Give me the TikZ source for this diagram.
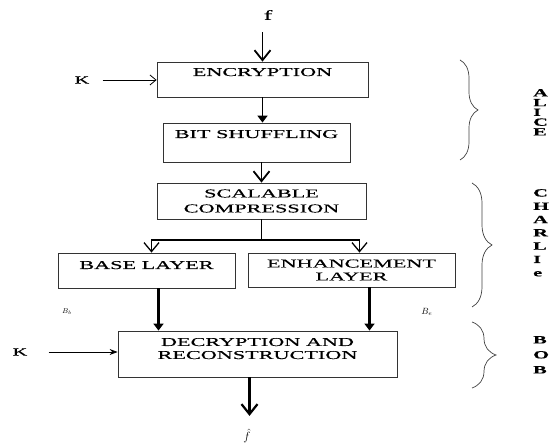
\documentclass[tikz,border=0pt]{standalone}
\usepackage{fontspec}
\setmainfont{Liberation Serif}
\newfontfamily\widefont[FakeStretch=1.85, FakeBold=0.4]{Liberation Serif}
\usepackage{tikz}
\usetikzlibrary{calc, arrows.meta, decorations.pathreplacing}

\tikzset{
	blk/.style = {draw = black!80, line width = 0.8pt, inner sep = 0pt, align = center, font = \widefont\fontsize{12}{14}\selectfont},
	lbl/.style = {inner sep = 1pt, font = \widefont\fontsize{11}{11}\selectfont},
	who/.style = {anchor = north west, align = left, inner sep = 0pt, font = \widefont\bfseries\fontsize{11}{#1}\selectfont},
	brc/.style = {draw = black!75, line width = 0.7pt, decorate, decoration = {brace, amplitude = #1}},
	opn/.style = {-{Straight Barb[length = 10pt, width = 16pt]}},
	fil/.style = {-{Triangle[length = 7pt, width = 10pt]}}
}

\begin{document}
\begin{tikzpicture}[x = 1pt, y = -1pt]
	\useasboundingbox (0,0) rectangle (550,443);

	\node [blk, minimum width = 211pt, minimum height = 35pt, text height = 8pt, text depth = 15pt] (enc) at (262.5,79.5) {ENCRYPTION};
	\node [blk, minimum width = 187pt, minimum height = 39pt, text height = 8pt, text depth = 17pt] (bit) at (256.5,142.5) {BIT SHUFFLING};
	\node [blk, minimum width = 209pt, minimum height = 36pt, font = \widefont\fontsize{12}{15}\selectfont] (scal) at (261.5,201) {SCALABLE\\COMPRESSION};
	\node [blk, minimum width = 177pt, minimum height = 35pt, text height = 8pt, text depth = 11pt] (base) at (146.5,270.5) {BASE LAYER};
	\node [blk, minimum width = 207pt, minimum height = 34pt, font = \widefont\fontsize{12}{13}\selectfont] (enh) at (351.5,270) {ENHANCEMENT\\LAYER};
	\node [blk, minimum width = 279pt, minimum height = 46pt, font = \widefont\fontsize{12}{13}\selectfont] (dec) at (257.5,354) {DECRYPTION AND\\RECONSTRUCTION\rule[-11pt]{0pt}{0pt}};

	\node [lbl, font = \widefont\fontsize{14}{14}\selectfont] (f) at (268,15) {f};
	\node [lbl] (kin1) at (82,80) {K};
	\node [lbl] (kin2) at (20,352) {K};
	\node [inner sep = 0pt, font = \scriptsize] (bb) at (67,312) {$B_b$};
	\node [inner sep = 0pt, font = \small] (be) at (427,312) {$B_e$};
	\node [inner sep = 0pt, font = \large] (fhat) at (247,436) {$\hat{f}$};

	\node [who = 9.75] (alice) at (533,89) {A\\L\\I\\C\\E};
	\node [who = 13.3] (charlie) at (533,189) {C\\H\\A\\R\\L\\I\\e};
	\node [who = 15] (bob) at (533,336) {B\\O\\B};

	\draw [opn, line width = 1.8pt, shorten < = 11pt] (enc.north |- f.south) -- (enc.north);
	\draw [-{Straight Barb[length = 6pt, width = 10pt]}, line width = 0.8pt, shorten < = 12pt] (kin1.east) -- (kin1.east -| enc.west);
	\draw [fil, line width = 1.8pt] (enc.south) -- (enc.south |- bit.north);
	\draw [opn, line width = 1.8pt] (scal.north |- bit.south) -- (scal.north);

	\coordinate (split) at (261.5,240);
	\draw [line width = 1.3pt] (scal.south) -- (split);
	\draw [-{Straight Barb[length = 9pt, width = 15pt]}, line width = 1.3pt] (split) -| ([xshift = 5pt]base.north);
	\draw [-{Straight Barb[length = 9pt, width = 15pt]}, line width = 1.3pt] (split) -| ([xshift = 8pt]enh.north);

	\draw [fil, line width = 2.2pt] ([xshift = 12pt]base.south) -- ([xshift = 12pt]base.south |- dec.north);
	\draw [fil, line width = 2.2pt] ([xshift = 18pt]enh.south) -- ([xshift = 18pt]enh.south |- dec.north);
	\draw [-{Stealth[length = 8pt, width = 6pt]}, line width = 0.8pt, shorten < = 20pt] (kin2.east) -- (kin2.east -| dec.west);
	\draw [opn, line width = 2.2pt, shorten > = 13pt] ([xshift = -8pt]dec.south) -- ([xshift = -8pt]dec.south |- fhat.north);

	\draw [brc = 18] (460,60) -- (460,160);
	\draw [brc = 20] (472,183) -- (472,307);
	\draw [brc = 24] (472,322) -- (472,388);
\end{tikzpicture}
\end{document}
